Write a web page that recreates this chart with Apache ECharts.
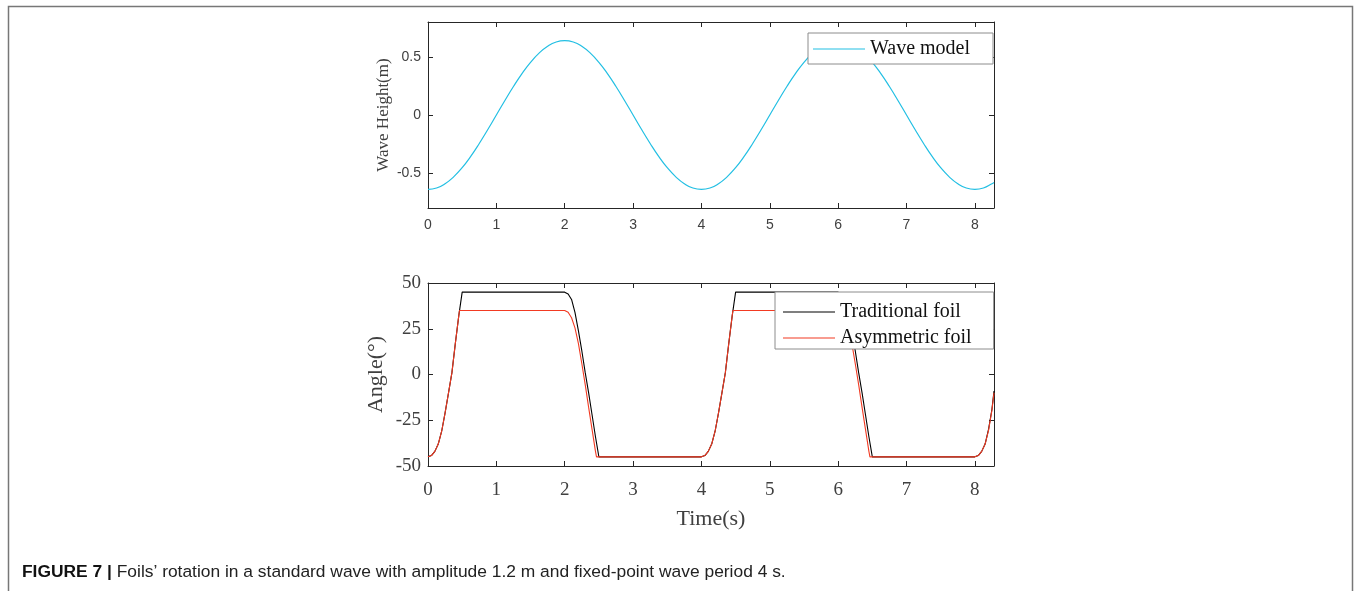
<!DOCTYPE html>
<html><head><meta charset="utf-8">
<script src="https://cdn.jsdelivr.net/npm/echarts@6/dist/echarts.min.js"></script>
<style>html,body{margin:0;padding:0;background:#fff;}#c{width:1356px;height:591px;}</style>
</head><body><div id="c"></div>
<script>
// ---- data ----
const xTicks = [0, 1, 2, 3, 4, 5, 6, 7, 8];
const waveTicks = [-0.5, 0, 0.5];
const angleTicks = [-50, -25, 0, 25, 50];

const waveTime = [0,0.125,0.25,0.375,0.5,0.625,0.75,0.875,1,1.125,1.25,1.375,1.5,1.625,1.75,1.875,
  2,2.125,2.25,2.375,2.5,2.625,2.75,2.875,3,3.125,3.25,3.375,3.5,3.625,3.75,3.875,
  4,4.125,4.25,4.375,4.5,4.625,4.75,4.875,5,5.125,5.25,5.375,5.5,5.625,5.75,5.875,
  6,6.125,6.25,6.375,6.5,6.625,6.75,6.875,7,7.125,7.25,7.375,7.5,7.625,7.75,7.875,
  8,8.125,8.25,8.28];
const waveHeight = [-0.64,-0.628,-0.591,-0.532,-0.453,-0.356,-0.245,-0.125,0,0.125,0.245,0.356,0.453,0.532,0.591,0.628,
  0.64,0.628,0.591,0.532,0.453,0.356,0.245,0.125,0,-0.125,-0.245,-0.356,-0.453,-0.532,-0.591,-0.628,
  -0.64,-0.628,-0.591,-0.532,-0.453,-0.356,-0.245,-0.125,0,0.125,0.245,0.356,0.453,0.532,0.591,0.628,
  0.64,0.628,0.591,0.532,0.453,0.356,0.245,0.125,0,-0.125,-0.245,-0.356,-0.453,-0.532,-0.591,-0.628,
  -0.64,-0.628,-0.591,-0.58];

const tradTime = [0,0.05,0.1,0.15,0.2,0.25,0.3,0.35,0.4,0.45,0.5,
  2.0,2.05,2.1,2.15,2.2,2.25,2.3,2.35,2.4,2.45,2.5,
  4.0,4.05,4.1,4.15,4.2,4.25,4.3,4.35,4.4,4.45,4.5,
  6.0,6.05,6.1,6.15,6.2,6.25,6.3,6.35,6.4,6.45,6.5,
  8.0,8.05,8.1,8.15,8.2,8.25,8.28];
const tradAngle = [-45,-44.3,-42,-38,-31,-21,-10,1,17,32,45,
  45,44,41,34,24,13,1,-10,-22,-34,-45,
  -45,-44.3,-42,-38,-31,-21,-10,1,17,32,45,
  45,44,41,34,24,13,1,-10,-22,-34,-45,
  -45,-44.3,-42,-38,-30,-19,-9];

const asymTime = [0,0.05,0.1,0.15,0.2,0.25,0.3,0.35,0.4,0.45,0.46,
  2.0,2.05,2.1,2.15,2.2,2.25,2.3,2.35,2.4,2.45,2.465,
  4.0,4.05,4.1,4.15,4.2,4.25,4.3,4.35,4.4,4.45,4.46,
  6.0,6.05,6.1,6.15,6.2,6.25,6.3,6.35,6.4,6.45,6.465,
  8.0,8.05,8.1,8.15,8.2,8.25,8.28];
const asymAngle = [-45,-44.3,-42,-38,-31,-21,-10,1,17,32,35,
  35,34,31,25.5,17,6,-5.5,-18,-30,-42,-45,
  -45,-44.3,-42,-38,-31,-21,-10,1,17,32,35,
  35,34,31,25.5,17,6,-5.5,-18,-30,-42,-45,
  -45,-44.3,-42,-38,-30.5,-19.5,-10];

// ---- chart ----
const zip = (a, b) => a.map((v, i) => [v, b[i]]);
const AX = '#262626';
const serif = 'Liberation Serif';
const sans = 'Liberation Sans';
const XMAX = 8.28;

function xAx(grid, pos, labels, font, size, margin, extra) {
  return Object.assign({
    type: 'value', gridIndex: grid, position: pos, min: 0, max: XMAX,
    axisLine: { show: true, onZero: false, lineStyle: { color: AX, width: 1 } },
    axisTick: { show: true, inside: true, length: 5, customValues: xTicks, lineStyle: { color: AX } },
    axisLabel: { show: labels, customValues: xTicks, fontFamily: font, fontSize: size, color: '#404040', margin: margin },
    splitLine: { show: false }
  }, extra || {});
}
function yAx(grid, pos, labels, min, max, ticks, font, size, extra) {
  return Object.assign({
    type: 'value', gridIndex: grid, position: pos, min: min, max: max,
    axisLine: { show: true, onZero: false, lineStyle: { color: AX, width: 1 } },
    axisTick: { show: true, inside: true, length: 5, customValues: ticks, lineStyle: { color: AX } },
    axisLabel: { show: labels, customValues: ticks, fontFamily: font, fontSize: size, color: '#404040', margin: 7 },
    splitLine: { show: false }
  }, extra || {});
}

const chart = echarts.init(document.getElementById('c'), null, { renderer: 'canvas' });
chart.setOption({
  animation: false,
  backgroundColor: '#fff',
  grid: [
    { left: 428, top: 22, width: 566, height: 186 },
    { left: 428, top: 283, width: 566, height: 183 }
  ],
  xAxis: [
    xAx(0, 'bottom', true, sans, 14, 10),
    xAx(0, 'top', false, sans, 14, 8),
    xAx(1, 'bottom', true, serif, 19, 15, {
      name: 'Time(s)', nameLocation: 'middle', nameGap: 42,
      nameTextStyle: { fontFamily: serif, fontSize: 22, color: '#404040' }
    }),
    xAx(1, 'top', false, serif, 19, 8)
  ],
  yAxis: [
    yAx(0, 'left', true, -0.8, 0.8, waveTicks, sans, 14, {
      name: 'Wave Height(m)', nameLocation: 'middle', nameGap: 36,
      nameTextStyle: { fontFamily: serif, fontSize: 17, color: '#404040' }
    }),
    yAx(0, 'right', false, -0.8, 0.8, waveTicks, sans, 14),
    yAx(1, 'left', true, -50, 50, angleTicks, serif, 19, {
      name: 'Angle(°)', nameLocation: 'middle', nameGap: 41,
      nameTextStyle: { fontFamily: serif, fontSize: 22, color: '#404040' }
    }),
    yAx(1, 'right', false, -50, 50, angleTicks, serif, 19)
  ],
  legend: [
    {
      data: ['Wave model'], orient: 'vertical', left: 808, top: 33,
      icon: 'rect', itemWidth: 52, itemHeight: 1, itemGap: 6,
      backgroundColor: '#fff', borderColor: '#8c8c8c', borderWidth: 1,
      padding: [6, 23, 5, 5],
      textStyle: { fontFamily: serif, fontSize: 20, color: '#111' }
    },
    {
      data: ['Traditional foil', 'Asymmetric foil'], orient: 'vertical', left: 775, top: 292,
      icon: 'rect', itemWidth: 52, itemHeight: 1, itemGap: 6,
      backgroundColor: '#fff', borderColor: '#8c8c8c', borderWidth: 1,
      padding: [10, 22, 1, 8],
      textStyle: { fontFamily: serif, fontSize: 20, color: '#111' }
    }
  ],
  series: [
    { name: 'Wave model', type: 'line', xAxisIndex: 0, yAxisIndex: 0, data: zip(waveTime, waveHeight),
      smooth: true, symbol: 'none', lineStyle: { color: '#22bfe3', width: 1.2 }, itemStyle: { color: '#22bfe3' } },
    { name: 'Traditional foil', type: 'line', xAxisIndex: 2, yAxisIndex: 2, data: zip(tradTime, tradAngle),
      symbol: 'none', lineStyle: { color: '#000', width: 1.1 }, itemStyle: { color: '#000' } },
    { name: 'Asymmetric foil', type: 'line', xAxisIndex: 2, yAxisIndex: 2, data: zip(asymTime, asymAngle),
      symbol: 'none', lineStyle: { color: '#f23a22', width: 1.1 }, itemStyle: { color: '#f23a22' } }
  ],
  graphic: [
    { type: 'polyline', silent: true, shape: { points: [[8.5, 591], [8.5, 6.5], [1352.5, 6.5], [1352.5, 591]] },
      style: { stroke: '#777', lineWidth: 1.5, fill: null } },
    { type: 'text', left: 22, top: 564, silent: true,
      style: {
        text: '{b|FIGURE 7 |} Foils’ rotation in a standard wave with amplitude 1.2 m and fixed-point wave period 4 s.',
        font: '17.4px "Liberation Sans"', fill: '#222',
        rich: { b: { fontWeight: 'bold', fontFamily: sans, fontSize: 17.4, fill: '#111' } }
      } }
  ]
});
</script></body></html>
